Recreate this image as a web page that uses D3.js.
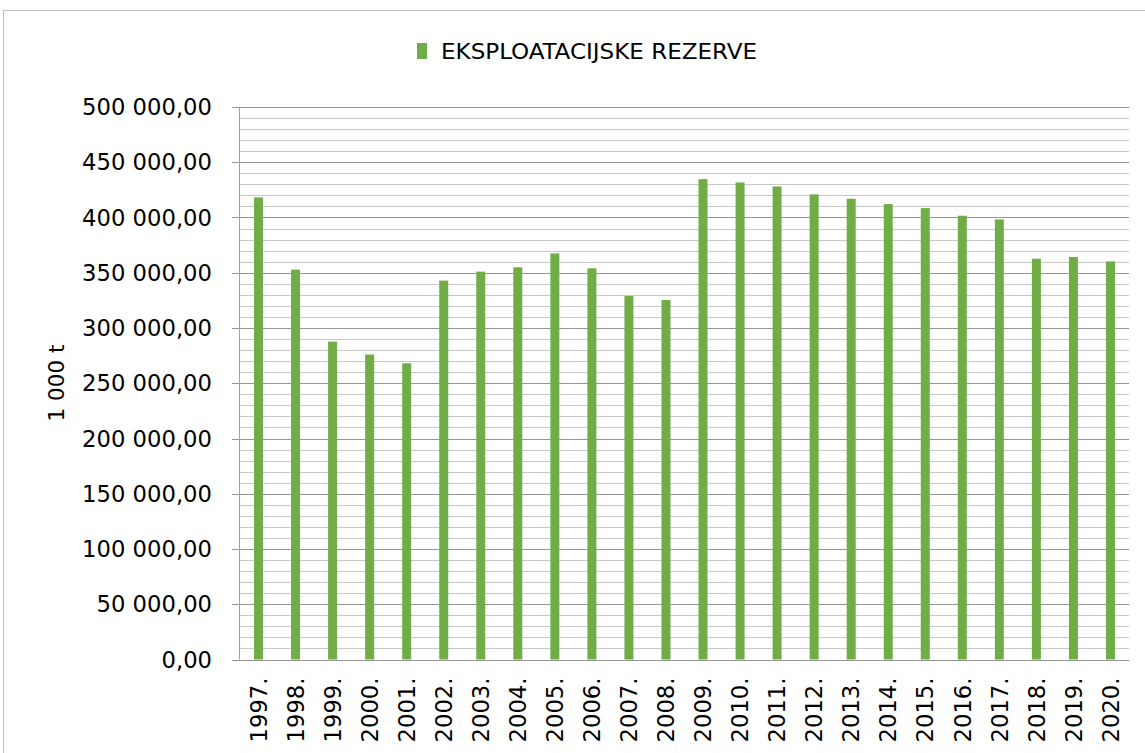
<!DOCTYPE html>
<html>
<head>
<meta charset="utf-8">
<script src="https://cdn.jsdelivr.net/npm/d3@7"></script>
<style>
  body { margin: 0; background: #fff; }
  text { font-family: "DejaVu Sans", sans-serif; fill: #000; }
</style>
</head>
<body>
<div class="vis-barChart"></div>
<script>
// data (1 000 t)
var years = ["1997.", "1998.", "1999.", "2000.", "2001.", "2002.", "2003.", "2004.",
             "2005.", "2006.", "2007.", "2008.", "2009.", "2010.", "2011.", "2012.",
             "2013.", "2014.", "2015.", "2016.", "2017.", "2018.", "2019.", "2020."];
var reserves = [418200, 352800, 287700, 276000, 268100, 342900, 351000, 354900,
                367500, 354000, 328900, 325300, 434700, 431700, 428100, 420900,
                417000, 412100, 408500, 401600, 398300, 362700, 364200, 360300];
var seriesName = "EKSPLOATACIJSKE REZERVE";
var yTicks = [0, 50000, 100000, 150000, 200000, 250000, 300000, 350000, 400000, 450000, 500000];
var yLabel = "1 000 t";

var W = 1145, H = 753;
var margin = {top: 107, right: 16, bottom: 93.5, left: 240},
    width = W - margin.left - margin.right,
    height = H - margin.top - margin.bottom;

var svg = d3.select('.vis-barChart').append('svg')
    .attr("width", W)
    .attr("height", H);

// chart frame
svg.append("rect")
    .attr("x", 3.5).attr("y", 10.5)
    .attr("width", 1200).attr("height", 800)
    .attr("fill", "none")
    .attr("stroke", "#bfbfbf");

var g = svg.append("g")
    .attr("transform", "translate(" + margin.left + "," + margin.top + ")");

var x = d3.scaleBand()
    .domain(years)
    .range([0, width])
    .paddingInner(0.757)
    .paddingOuter(0.757 / 2);

var y = d3.scaleLinear()
    .domain([0, 500000])
    .range([height, 0]);

var fmt = function(v) {
    return d3.format(",.2f")(v).replace(/,/g, " ").replace(".", ",");
};

// minor gridlines every 10 000
g.selectAll(".minor")
    .data(d3.range(10000, 500000, 10000).filter(function(v) { return v % 50000 !== 0; }))
    .enter().append("line")
    .attr("x1", 0).attr("x2", width)
    .attr("y1", function(d) { return Math.round(y(d)) + 0.5; })
    .attr("y2", function(d) { return Math.round(y(d)) + 0.5; })
    .attr("stroke", "#c8c8c8");

// major gridlines + ticks
g.selectAll(".major")
    .data(yTicks.slice(1))
    .enter().append("line")
    .attr("x1", -8).attr("x2", width)
    .attr("y1", function(d) { return Math.round(y(d)) + 0.5; })
    .attr("y2", function(d) { return Math.round(y(d)) + 0.5; })
    .attr("stroke", "#969696");

// y axis labels
g.selectAll(".ylab")
    .data(yTicks)
    .enter().append("text")
    .attr("x", -28)
    .attr("y", function(d) { return y(d); })
    .attr("dy", "0.36em")
    .attr("text-anchor", "end")
    .style("font-size", "22.7px")
    .text(fmt);

// axes lines
g.append("line")
    .attr("x1", -0.5).attr("x2", -0.5)
    .attr("y1", 0).attr("y2", height)
    .attr("stroke", "#a0a0a0");
g.append("line")
    .attr("x1", -8).attr("x2", width)
    .attr("y1", Math.round(height) + 0.5).attr("y2", Math.round(height) + 0.5)
    .attr("stroke", "#969696");

// bars
g.selectAll(".bar")
    .data(reserves)
    .enter().append("rect")
    .attr("x", function(d, i) { return x(years[i]); })
    .attr("y", function(d) { return y(d); })
    .attr("width", x.bandwidth())
    .attr("height", function(d) { return y(0) - y(d); })
    .attr("fill", "#70ad47");

// x labels
g.selectAll(".xlab")
    .data(years)
    .enter().append("text")
    .attr("transform", function(d) {
        return "translate(" + (x(d) + x.bandwidth() / 2) + "," + (height + 18) + ") rotate(-90)";
    })
    .attr("dy", "0.36em")
    .attr("text-anchor", "end")
    .style("font-size", "22.7px")
    .text(function(d) { return d; });

// y axis title
svg.append("text")
    .attr("transform", "translate(56,383) rotate(-90)")
    .attr("dy", "0.36em")
    .attr("text-anchor", "middle")
    .style("font-size", "21.5px")
    .text(yLabel);

// legend
svg.append("rect")
    .attr("x", 417).attr("y", 43)
    .attr("width", 10).attr("height", 16)
    .attr("fill", "#70ad47");
svg.append("text")
    .attr("x", 441).attr("y", 59)
    .attr("textLength", 316)
    .attr("lengthAdjust", "spacingAndGlyphs")
    .style("font-size", "22px")
    .style("font-family", "'DejaVu Sans Condensed', 'DejaVu Sans', sans-serif")
    .text(seriesName);
</script>
</body>
</html>
